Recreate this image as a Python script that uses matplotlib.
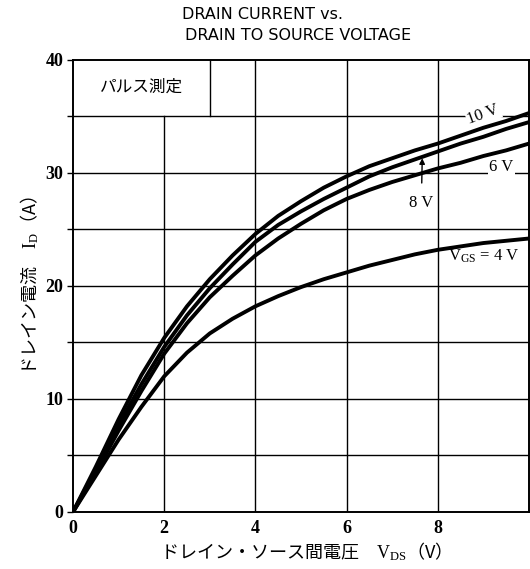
import numpy as np
import matplotlib
matplotlib.use('Agg')
from matplotlib import pyplot as plt

plt.rcParams['mathtext.fontset'] = 'custom'
plt.rcParams['mathtext.rm'] = 'Liberation Serif'
plt.rcParams['mathtext.it'] = 'Liberation Serif'
plt.rcParams['mathtext.bf'] = 'Liberation Serif:bold'

# drain-source voltage (V), read every 0.5 V
vds = [0, 0.5, 1.0, 1.5, 2.0, 2.5, 3.0, 3.5, 4.0, 4.5, 5.0,
       5.5, 6.0, 6.5, 7.0, 7.5, 8.0, 8.5, 9.0, 9.5, 10.0]

# drain current (A) for each gate voltage
id_10v = [0, 4.0, 8.2, 12.1, 15.4, 18.2, 20.6, 22.7, 24.6, 26.2, 27.5,
          28.7, 29.7, 30.6, 31.3, 32.0, 32.6, 33.3, 34.0, 34.6, 35.3]
id_8v = [0, 3.75, 7.7, 11.3, 14.6, 17.4, 19.8, 21.9, 23.9, 25.4, 26.6,
         27.7, 28.7, 29.7, 30.5, 31.2, 31.9, 32.6, 33.2, 33.9, 34.5]
id_6v = [0, 3.5, 7.2, 10.7, 14.0, 16.7, 19.0, 20.9, 22.7, 24.2, 25.5,
         26.7, 27.7, 28.5, 29.2, 29.8, 30.4, 30.9, 31.5, 32.0, 32.6]
id_4v = [0, 3.2, 6.4, 9.3, 12.0, 14.1, 15.8, 17.1, 18.2, 19.1, 19.9,
         20.6, 21.2, 21.8, 22.3, 22.8, 23.2, 23.5, 23.8, 24.0, 24.2]

x_ticks = [0, 2, 4, 6, 8]
y_ticks = [0, 10, 20, 30, 40]

fig = plt.figure(figsize=(5.30, 5.69), dpi=100)
ax = fig.add_axes([0.1377, 0.1002, 0.8603, 0.7944])
ax.set_xlim(0, 10)
ax.set_ylim(0, 40)

# grid (drawn by hand so the box and labels can break it)
for gx in [4, 6, 8]:
    ax.axvline(gx, color='black', lw=1.0, zorder=1)
ax.plot([2, 2], [0, 35], color='black', lw=1.0, zorder=1)
for gy in [5, 10, 15, 20, 25, 30, 35]:
    ax.axhline(gy, color='black', lw=1.0, zorder=1)

# measurement box
ax.plot([3, 3], [35, 40], color='black', lw=1.0, zorder=1)
ax.text(1.5, 37.6, 'パルス測定', family=['Noto Sans CJK JP'], fontsize=12,
        ha='center', va='center')

for cur in [id_10v, id_8v, id_6v, id_4v]:
    ax.plot(vds, cur, color='black', lw=2.8, solid_capstyle='round', zorder=3)

serif = ['Liberation Serif']
ax.text(9.0, 35.2, '10 V', family=serif, fontsize=12, rotation=20,
        ha='center', va='center', zorder=4,
        bbox=dict(facecolor='white', edgecolor='none', pad=1))
ax.text(9.4, 30.5, '6 V', family=serif, fontsize=12,
        ha='center', va='center', zorder=4,
        bbox=dict(facecolor='white', edgecolor='none', pad=1))
ax.annotate('8 V', xy=(7.66, 31.3), xytext=(7.64, 27.3), family=serif,
            fontsize=12, ha='center', va='center', zorder=4,
            arrowprops=dict(arrowstyle='-|>', color='black', lw=1.0,
                            shrinkA=7, shrinkB=0, mutation_scale=8))
ax.text(9.0, 22.6, r'$\mathrm{V_{GS}}$ = 4 V', family=serif, fontsize=12,
        ha='center', va='center', zorder=4)

ax.set_xticks(x_ticks)
ax.set_yticks(y_ticks)
ax.set_yticks([5, 15, 25, 35], minor=True)
ax.tick_params(axis='x', length=0, pad=6)
ax.tick_params(axis='y', which='both', direction='out', length=4, width=1, pad=3)
for lab in ax.get_xticklabels() + ax.get_yticklabels():
    lab.set_family(serif)
    lab.set_fontsize(13)
    lab.set_fontweight('bold')
for sp in ax.spines.values():
    sp.set_linewidth(1.4)

ax.set_xlabel(r'ドレイン・ソース間電圧　$\mathrm{V_{DS}}$（V）',
              family=['Noto Sans CJK JP'], fontsize=13, labelpad=2)
ax.set_ylabel(r'ドレイン電流　$\mathrm{I_D}$（A）',
              family=['Noto Sans CJK JP'], fontsize=13, labelpad=3)

fig.text(0.343, 0.975, 'DRAIN CURRENT vs.', family=['DejaVu Sans'],
         fontsize=11.5, ha='left', va='center')
fig.text(0.349, 0.938, 'DRAIN TO SOURCE VOLTAGE', family=['DejaVu Sans'],
         fontsize=11.5, ha='left', va='center')

fig.savefig('out.png', dpi=100)
